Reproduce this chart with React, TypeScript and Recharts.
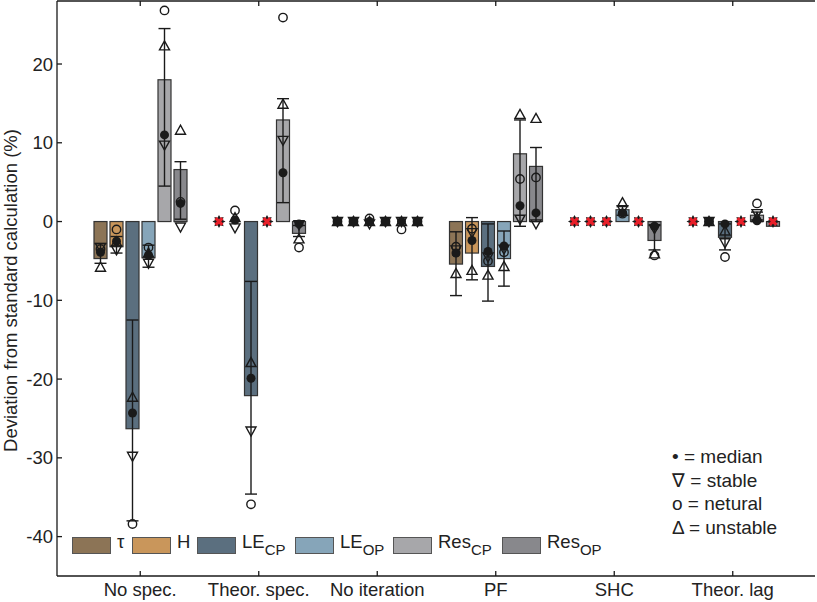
import { BarChart, Bar, XAxis, YAxis } from 'recharts';

const CATEGORIES = ['No spec.', 'Theor. spec.', 'No iteration', 'PF', 'SHC', 'Theor. lag'];

// series order: tau, H, LE_CP, LE_OP, Res_CP, Res_OP
const SERIES_MAIN = ['τ', 'H', 'LE', 'LE', 'Res', 'Res'];
const SERIES_SUB = ['', '', 'CP', 'OP', 'CP', 'OP'];
const COLORS = ['#8c7456', '#c9965b', '#5b6f7f', '#86a5b9', '#a7a7aa', '#88888c'];

// bar height per [series][category]
const BAR_VALUE = [
  [-4.7, 0, 0, -5.4, 0, 0],
  [-3.2, 0, 0, -4.0, 0, 0],
  [-26.3, -22.1, 0, -5.7, 0, -2.0],
  [-4.6, 0, 0, -4.7, 1.5, 0],
  [18.0, 12.9, 0, 8.6, 0, 0.8],
  [6.6, -1.5, 0, 7.0, -2.4, -0.6],
];

// whisker [start, end] per [series][category]
const ERR_RANGE = [
  [[-2.8, -5.3], null, null, [-1.3, -9.4], null, null],
  [[-1.9, -4.0], null, null, [0.5, -7.4], null, null],
  [[-12.5, -38.0], [-7.6, -34.6], null, [-0.3, -10.1], null, [-0.3, -3.6]],
  [[-3.0, -5.8], null, null, [-1.2, -8.2], [0.8, 2.0], null],
  [[4.5, 24.5], [2.4, 15.6], null, [-0.6, 12.9], null, [0.2, 1.2]],
  [[0.3, 7.6], [-0.5, -1.9], null, [0.0, 9.4], [-0.5, -3.6], null],
];

const MEDIAN = [
  [-3.9, null, 0, -4.0, null, null],
  [-2.5, 0.2, 0, -2.4, null, 0],
  [-24.3, -19.9, 0, -3.8, null, -0.3],
  [-4.3, null, 0, -3.1, 1.1, null],
  [11.0, 6.2, 0, 2.0, null, 0.1],
  [2.3, -0.3, 0, 1.1, -0.6, null],
];

const STABLE = [
  [-3.3, null, 0, -3.6, null, null],
  [-3.6, -0.8, 0, -1.4, null, 0],
  [-29.8, -26.6, -0.3, -4.5, null, -2.7],
  [-5.3, null, 0, -3.5, 1.5, null],
  [9.7, 10.3, 0, 0.3, null, 1.0],
  [-0.7, -0.4, 0, -0.3, -0.9, null],
];

const NEUTRAL = [
  [-3.5, null, 0, -3.2, null, null],
  [-1.0, 1.4, 0, -0.9, null, 0],
  [-38.4, -35.9, 0.4, -5.0, null, -4.5],
  [-3.3, null, 0, -3.9, 1.0, null],
  [26.8, 25.9, -1.0, 5.4, null, 2.3],
  [2.5, -3.3, 0, 5.6, -4.3, null],
];

const UNSTABLE = [
  [-5.8, null, 0, -6.6, null, null],
  [-2.6, 0.5, 0, -6.2, null, 0],
  [-22.3, -17.9, 0, -6.8, null, -1.2],
  [-4.0, null, 0, -5.7, 2.4, null],
  [22.3, 14.9, 0, 13.6, null, 0.5],
  [11.6, -2.2, 0, 13.1, -4.1, null],
];

// red marker: no deviation
const ZERO_FLAG = [
  [0, 1, 0, 0, 1, 1],
  [0, 0, 0, 0, 1, 0],
  [0, 0, 0, 0, 1, 0],
  [0, 1, 0, 0, 0, 1],
  [0, 0, 0, 0, 1, 0],
  [0, 0, 0, 0, 0, 1],
];

const Y_MIN = -45;
const Y_MAX = 28;
const Y_TICKS = [-40, -30, -20, -10, 0, 10, 20];

const INK = '#1a1a1a';
const FONT = '"Liberation Sans", Arial, Helvetica, sans-serif';

const chartData = CATEGORIES.map((cat, ci) => {
  const row: Record<string, string | number> = { cat };
  BAR_VALUE.forEach((vals, s) => {
    row[`s${s}`] = vals[ci];
  });
  return row;
});

let lastPpu = 7.85;

function Star({ cx, cy }: { cx: number; cy: number }) {
  const pts: string[] = [];
  for (let i = 0; i < 16; i++) {
    const r = i % 2 === 0 ? 6.5 : 4;
    const a = (Math.PI * i) / 8;
    pts.push(`${cx + r * Math.sin(a)},${cy - r * Math.cos(a)}`);
  }
  return (
    <g>
      <polygon points={pts.join(' ')} fill={INK} />
      <line x1={cx - 3.4} y1={cy - 3.4} x2={cx + 3.4} y2={cy + 3.4} stroke="#e8202a" strokeWidth={3.2} />
      <line x1={cx - 3.4} y1={cy + 3.4} x2={cx + 3.4} y2={cy - 3.4} stroke="#e8202a" strokeWidth={3.2} />
    </g>
  );
}

function BarMark(props: any) {
  const { x, y, width, height, index, fill, s, background } = props;
  const ci = index;
  const v = BAR_VALUE[s][ci];
  let ppu = lastPpu;
  if (v !== 0 && height) {
    ppu = height / v;
    lastPpu = ppu;
  } else if (background && background.height) {
    ppu = background.height / (Y_MAX - Y_MIN);
  }
  const zero = y + (height || 0);
  const py = (val: number) => zero - val * ppu;
  const cx = x + width / 2;
  const top = Math.min(y, y + (height || 0));
  const h = Math.abs(height || 0);
  const err = ERR_RANGE[s][ci];
  const half = width / 2 - 0.5;
  const med = MEDIAN[s][ci];
  const stb = STABLE[s][ci];
  const neu = NEUTRAL[s][ci];
  const uns = UNSTABLE[s][ci];

  return (
    <g>
      {h > 0 && <rect x={x} y={top} width={width} height={h} fill={fill} stroke="#333" strokeWidth={1.2} />}
      {err && (
        <g stroke={INK} strokeWidth={1.4}>
          <line x1={cx} x2={cx} y1={py(err[0])} y2={py(err[1])} />
          <line x1={cx - half} x2={cx + half} y1={py(err[0])} y2={py(err[0])} />
          <line x1={cx - half} x2={cx + half} y1={py(err[1])} y2={py(err[1])} />
        </g>
      )}
      {neu !== null && <circle cx={cx} cy={py(neu)} r={4.2} fill="none" stroke={INK} strokeWidth={1.4} />}
      {stb !== null && (
        <polygon
          points={`${cx - 5},${py(stb) - 4} ${cx + 5},${py(stb) - 4} ${cx},${py(stb) + 5}`}
          fill="none"
          stroke={INK}
          strokeWidth={1.4}
        />
      )}
      {uns !== null && (
        <polygon
          points={`${cx - 5},${py(uns) + 4} ${cx + 5},${py(uns) + 4} ${cx},${py(uns) - 5}`}
          fill="none"
          stroke={INK}
          strokeWidth={1.4}
        />
      )}
      {med !== null && <circle cx={cx} cy={py(med)} r={4.5} fill={INK} />}
      {ZERO_FLAG[s][ci] === 1 && <Star cx={cx} cy={py(0)} />}
    </g>
  );
}

const BottomTick = ({ x, y, payload }: any) => (
  <g>
    <line x1={x} x2={x} y1={y} y2={y - 5} stroke={INK} strokeWidth={1.3} />
    <text x={x} y={y + 20} textAnchor="middle" fontSize={18.5} fontFamily={FONT} fill="#222">
      {payload.value}
    </text>
  </g>
);

const TopTick = ({ x, y }: any) => (
  <line x1={x} x2={x} y1={y} y2={y + 5} stroke={INK} strokeWidth={1.3} />
);

const LeftTick = ({ x, y, payload }: any) => (
  <g>
    <line x1={x} x2={x + 5} y1={y} y2={y} stroke={INK} strokeWidth={1.3} />
    <text x={x - 4} y={y + 6.5} textAnchor="end" fontSize={18.5} fontFamily={FONT} fill="#222">
      {payload.value}
    </text>
  </g>
);

const RightTick = ({ x, y }: any) => (
  <line x1={x} x2={x - 5} y1={y} y2={y} stroke={INK} strokeWidth={1.3} />
);

const YLabel = ({ viewBox }: any) => {
  const cx = viewBox.x + 17;
  const cy = viewBox.y + viewBox.height / 2 + 2;
  return (
    <text
      x={cx}
      y={cy}
      transform={`rotate(-90 ${cx} ${cy})`}
      textAnchor="middle"
      fontSize={18.5}
      fontFamily={FONT}
      fill="#222"
    >
      Deviation from standard calculation (%)
    </text>
  );
};

const SWATCH_LEFT = [72, 132, 197, 295, 393, 502];
const MARKER_KEY = ['• = median', '∇ = stable', 'o = netural', 'Δ = unstable'];

const axisLine = { stroke: INK, strokeWidth: 1.3 };

export default function App() {
  return (
    <div style={{ position: 'absolute', left: 0, top: 0, width: 817, height: 602, fontFamily: FONT }}>
      <BarChart
        width={817}
        height={602}
        data={chartData}
        margin={{ top: 0, right: 2, bottom: 0, left: 0 }}
        barSize={13}
        barGap={3}
      >
        <XAxis
          xAxisId="b"
          dataKey="cat"
          height={26}
          padding={{ left: 24, right: 23 }}
          interval={0}
          tickSize={0}
          tickMargin={0}
          tickLine={false}
          tick={<BottomTick />}
          axisLine={axisLine}
        />
        <XAxis
          xAxisId="t"
          dataKey="cat"
          orientation="top"
          height={1}
          padding={{ left: 24, right: 23 }}
          interval={0}
          tickSize={0}
          tickMargin={0}
          tickLine={false}
          tick={<TopTick />}
          axisLine={axisLine}
        />
        <YAxis
          yAxisId="l"
          domain={[Y_MIN, Y_MAX]}
          ticks={Y_TICKS}
          allowDataOverflow
          width={57}
          tickSize={0}
          tickMargin={0}
          tickLine={false}
          tick={<LeftTick />}
          axisLine={axisLine}
          label={<YLabel />}
        />
        <YAxis
          yAxisId="r"
          orientation="right"
          domain={[Y_MIN, Y_MAX]}
          ticks={Y_TICKS}
          allowDataOverflow
          width={0}
          tickSize={0}
          tickMargin={0}
          tickLine={false}
          tick={<RightTick />}
          axisLine={axisLine}
        />
        {BAR_VALUE.map((_, s) => (
          <Bar
            key={s}
            dataKey={`s${s}`}
            xAxisId="b"
            yAxisId="l"
            fill={COLORS[s]}
            isAnimationActive={false}
            shape={(p: any) => <BarMark {...p} s={s} />}
          />
        ))}
      </BarChart>

      {SERIES_MAIN.map((main, s) => (
        <div key={s}>
          <div
            style={{
              position: 'absolute',
              left: SWATCH_LEFT[s],
              top: 537,
              width: 39,
              height: 17,
              background: COLORS[s],
              border: '1px solid #555',
              boxSizing: 'border-box',
            }}
          />
          <div
            style={{
              position: 'absolute',
              left: SWATCH_LEFT[s] + 45,
              top: 532,
              fontSize: 18.5,
              lineHeight: '20px',
              color: '#222',
              whiteSpace: 'nowrap',
            }}
          >
            {main}
            {SERIES_SUB[s] && (
              <span style={{ fontSize: 15, position: 'relative', top: 7 }}>{SERIES_SUB[s]}</span>
            )}
          </div>
        </div>
      ))}

      <div style={{ position: 'absolute', left: 672, top: 445, fontSize: 19, lineHeight: '23.5px', color: '#222' }}>
        {MARKER_KEY.map((t) => (
          <div key={t} style={{ whiteSpace: 'nowrap' }}>
            {t}
          </div>
        ))}
      </div>
    </div>
  );
}
